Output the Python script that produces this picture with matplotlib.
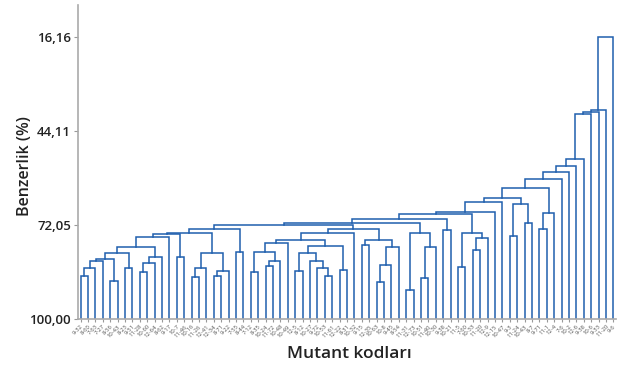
import matplotlib.pyplot as plt

# leaf labels (left to right)
leaf_labels = [
    "9-32", "8-60", "7-63", "7-27", "8-56", "10-43", "8-23", "9-51", "11-28",
    "10-60", "12-64", "8-62", "9-17", "10-7", "11-46", "10-16", "11-26", "12-41",
    "12-34", "8-71", "9-22", "7-55", "8-44", "7-12", "8-35", "10-24", "11-72",
    "10-48", "10-49", "12-5", "8-12", "10-27", "9-72", "10-53", "11-61", "12-22",
    "8-31", "10-32", "9-15", "12-35", "10-63", "10-8", "9-45", "8-54", "11-31",
    "12-73", "10-51", "11-40", "10-30", "9-38", "10-21", "11-5", "7-60", "10-33",
    "11-20", "12-9", "12-15", "10-47", "9-3", "11-24", "10-43", "8-7", "9-71",
    "11-1", "12-4", "7-6", "10-2", "12-6", "9-38", "10-6", "9-33", "11-20", "9-6",
]

# merges: node ids < 73 are leaves, 73 + k is the cluster made by merge k
merge_a = [0, 73, 74, 4, 75, 6, 77, 8, 80, 81, 79, 83, 13, 84, 15, 87, 18, 89,
           88, 86, 21, 92, 23, 25, 96, 95, 98, 29, 33, 32, 31, 100, 35, 104,
           99, 107, 38, 40, 110, 111, 109, 108, 94, 44, 46, 117, 116, 115, 49,
           120, 51, 53, 124, 123, 122, 127, 128, 58, 60, 130, 129, 62, 134,
           133, 136, 137, 138, 139, 140, 141, 142, 143]
merge_b = [1, 2, 3, 5, 76, 7, 78, 9, 10, 11, 82, 12, 14, 85, 16, 17, 19, 20,
           90, 91, 22, 93, 24, 26, 27, 97, 28, 30, 34, 101, 102, 103, 36, 105,
           106, 37, 39, 41, 42, 43, 112, 113, 114, 45, 47, 48, 118, 119, 50,
           121, 52, 54, 55, 125, 126, 56, 57, 59, 61, 131, 132, 63, 64, 135,
           65, 66, 67, 68, 69, 70, 71, 72]
merge_sim = [87.2, 84.75, 82.75, 88.6, 82.07, 84.9, 80.5, 86.1, 83.3, 81.5,
             78.5, 75.7, 81.5, 74.7, 87.4, 84.9, 87.2, 85.8, 80.5, 74.5, 80.2,
             73.3, 86.1, 84.2, 82.7, 80.0, 77.5, 85.7, 87.1, 84.75, 82.7, 80.5,
             85.5, 78.3, 76.4, 74.3, 78.0, 89.0, 83.9, 78.7, 76.5, 73.2, 72.05,
             91.4, 87.7, 78.7, 74.3, 71.5, 73.5, 70.35, 84.45, 79.5, 76.0, 74.3,
             68.9, 68.1, 65.2, 75.2, 71.5, 65.9, 63.9, 73.2, 68.4, 61.1, 58.5,
             56.4, 54.4, 52.5, 39.1, 38.4, 37.9, 16.16]

y_ticks = [100.00, 72.05, 44.11, 16.16]

line_color = "#1f5fae"
font = ["Open Sans", "DejaVu Sans"]

fig = plt.figure(figsize=(6.19, 3.65), dpi=100)
ax = fig.add_axes([78 / 619, 1 - 319 / 365, 538 / 619, 314 / 365])

n = len(leaf_labels)
xpos = {i: float(i) for i in range(n)}
hgt = {i: 100.0 for i in range(n)}
for k, (a, b, s) in enumerate(zip(merge_a, merge_b, merge_sim)):
    xa, xb = xpos[a], xpos[b]
    ax.plot([xa, xa, xb, xb], [hgt[a], s, s, hgt[b]],
            color=line_color, lw=1.1, solid_joinstyle="miter")
    xpos[n + k] = (xa + xb) / 2
    hgt[n + k] = s

ax.set_xlim(-0.34, 72.36)
ax.set_ylim(100, 6.63)

ax.set_yticks(y_ticks)
ax.set_yticklabels([f"{v:.2f}".replace(".", ",") for v in y_ticks],
                   fontsize=9.5, fontweight="semibold", color="#222222")
ax.set_xticks(range(n))
ax.set_xticklabels(leaf_labels, rotation=45, ha="right",
                   rotation_mode="anchor", fontsize=4.2, color="#555555")
ax.tick_params(axis="y", length=3, color="#999999", pad=2)
ax.tick_params(axis="x", length=2, color="#999999", pad=1.5)

for side in ["top", "right"]:
    ax.spines[side].set_visible(False)
for side in ["left", "bottom"]:
    ax.spines[side].set_color("#aaaaaa")
    ax.spines[side].set_linewidth(1.2)

fig.text(0.04, 0.545, "Benzerlik (%)", rotation=90, ha="center", va="center",
         fontsize=11.5, fontweight="semibold", color="#222222")
fig.text(0.565, 0.03, "Mutant kodları", ha="center", va="center",
         fontsize=12.5, fontweight="semibold", color="#222222")

for t in ax.get_yticklabels() + ax.get_xticklabels() + fig.texts:
    t.set_family(font)

fig.savefig("out.png", dpi=100)
